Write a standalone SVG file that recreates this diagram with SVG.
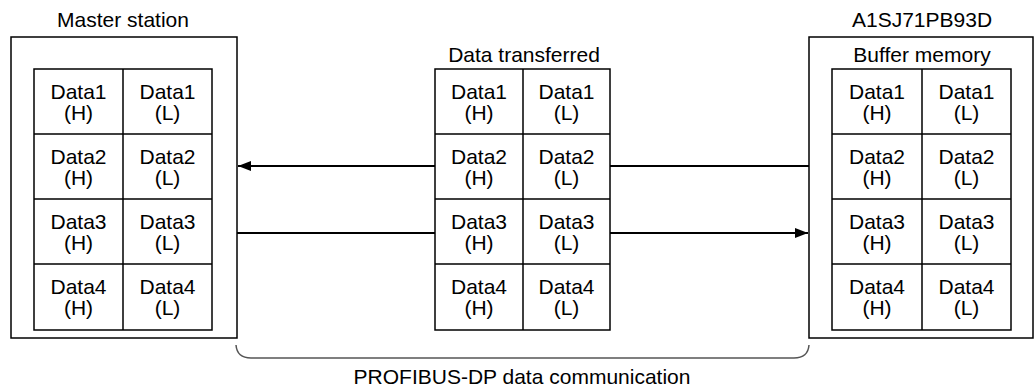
<svg xmlns="http://www.w3.org/2000/svg" width="1036" height="387" viewBox="0 0 1036 387">
<defs>
<style>
text{font-family:"Liberation Sans",Arial,sans-serif;font-size:21px;fill:#000;text-anchor:middle}
.box{fill:#fff;stroke:#000;stroke-width:1.5}
.grid{fill:none;stroke:#000;stroke-width:1.5}
.conn{fill:none;stroke:#000;stroke-width:2}
.brace{fill:none;stroke:#555;stroke-width:1.5}
</style>
<marker id="ah" viewBox="0 0 13 10" refX="13" refY="5" markerWidth="13" markerHeight="10" markerUnits="userSpaceOnUse" orient="auto">
<path d="M0,0 L13,5 L0,10 Z" fill="#000"/>
</marker>
</defs>
<rect width="1036" height="387" fill="#fff"/>

<g id="master-station">
<text x="123" y="27">Master station</text>
<rect class="box" x="11" y="37" width="226" height="301"/>
<rect class="grid" x="34" y="69" width="178" height="261"/>
<path class="grid" d="M123,69V330M34,134H212M34,199H212M34,264H212"/>
<text x="78.5" y="99">Data1</text><text x="78.5" y="120">(H)</text>
<text x="167.5" y="99">Data1</text><text x="167.5" y="120">(L)</text>
<text x="78.5" y="164">Data2</text><text x="78.5" y="185">(H)</text>
<text x="167.5" y="164">Data2</text><text x="167.5" y="185">(L)</text>
<text x="78.5" y="229">Data3</text><text x="78.5" y="250">(H)</text>
<text x="167.5" y="229">Data3</text><text x="167.5" y="250">(L)</text>
<text x="78.5" y="294">Data4</text><text x="78.5" y="315">(H)</text>
<text x="167.5" y="294">Data4</text><text x="167.5" y="315">(L)</text>
</g>

<g id="data-transferred">
<text x="524" y="62">Data transferred</text>
<rect class="grid" x="435" y="69" width="175" height="261"/>
<path class="grid" d="M523,69V330M435,134H610M435,199H610M435,264H610"/>
<text x="479" y="99">Data1</text><text x="479" y="120">(H)</text>
<text x="566.5" y="99">Data1</text><text x="566.5" y="120">(L)</text>
<text x="479" y="164">Data2</text><text x="479" y="185">(H)</text>
<text x="566.5" y="164">Data2</text><text x="566.5" y="185">(L)</text>
<text x="479" y="229">Data3</text><text x="479" y="250">(H)</text>
<text x="566.5" y="229">Data3</text><text x="566.5" y="250">(L)</text>
<text x="479" y="294">Data4</text><text x="479" y="315">(H)</text>
<text x="566.5" y="294">Data4</text><text x="566.5" y="315">(L)</text>
</g>

<g id="a1sj71pb93d">
<text x="922" y="27">A1SJ71PB93D</text>
<rect class="box" x="809" y="37" width="224" height="301"/>
<text x="922" y="62">Buffer memory</text>
<rect class="grid" x="832" y="69" width="179" height="261"/>
<path class="grid" d="M922,69V330M832,134H1011M832,199H1011M832,264H1011"/>
<text x="877" y="99">Data1</text><text x="877" y="120">(H)</text>
<text x="966.5" y="99">Data1</text><text x="966.5" y="120">(L)</text>
<text x="877" y="164">Data2</text><text x="877" y="185">(H)</text>
<text x="966.5" y="164">Data2</text><text x="966.5" y="185">(L)</text>
<text x="877" y="229">Data3</text><text x="877" y="250">(H)</text>
<text x="966.5" y="229">Data3</text><text x="966.5" y="250">(L)</text>
<text x="877" y="294">Data4</text><text x="877" y="315">(H)</text>
<text x="966.5" y="294">Data4</text><text x="966.5" y="315">(L)</text>
</g>

<g id="connectors">
<path class="conn" d="M809,166H610"/>
<path class="conn" d="M435,166H238" marker-end="url(#ah)"/>
<path class="conn" d="M237,233H435"/>
<path class="conn" d="M610,233H808" marker-end="url(#ah)"/>
</g>

<g id="communication-brace">
<path class="brace" d="M236,345Q237,358 251,358H794Q808,358 809,345"/>
<text x="522" y="384">PROFIBUS-DP data communication</text>
</g>
</svg>
